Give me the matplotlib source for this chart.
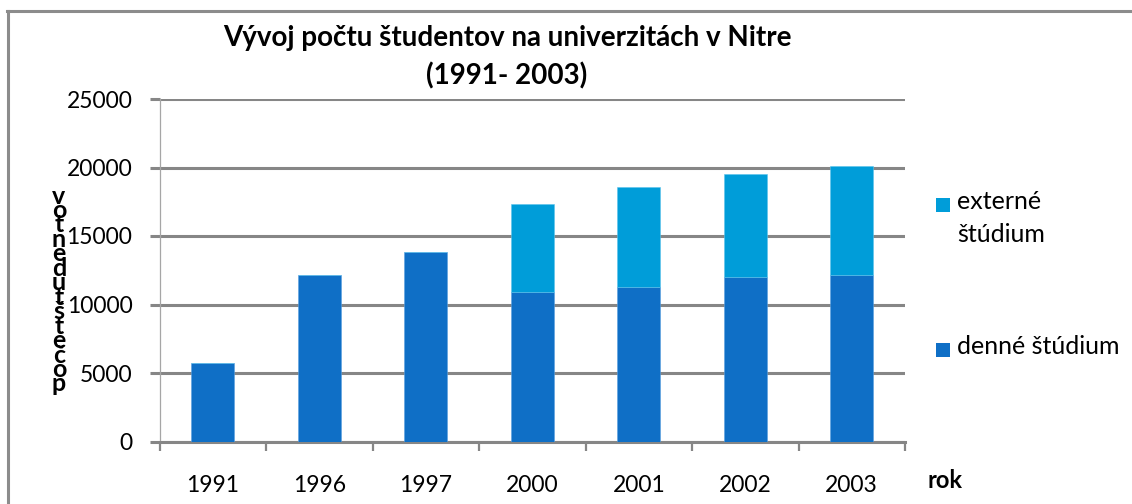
import matplotlib
matplotlib.use("Agg")
import matplotlib.pyplot as plt
from matplotlib.lines import Line2D
from matplotlib.patches import Rectangle

years = ["1991", "1996", "1997", "2000", "2001", "2002", "2003"]
denne = [5700, 12150, 13800, 10900, 11250, 12000, 12150]
externe = [0, 0, 0, 6400, 7350, 7500, 7950]

title = "Vývoj počtu študentov na univerzitách v Nitre\n(1991- 2003)"
ylabel = "počet študentov"
xlabel = "rok"
label_denne = "denné štúdium"
label_externe = "externé\nštúdium"

c_denne = "#0F6FC6"
c_externe = "#009DD9"
c_grid = "#868686"

plt.rcParams["font.family"] = ["Lato", "DejaVu Sans"]

W, H = 1132, 504
fig = plt.figure(figsize=(W / 100, H / 100), dpi=100)
ax = fig.add_axes([159.5 / W, 1 - 441.5 / H, (905 - 159.5) / W, (441.5 - 99) / H])

x = list(range(len(years)))
ax.bar(x, denne, width=0.4, color=c_denne, edgecolor="#5aa0e0", linewidth=0.4, zorder=3)
ax.bar(x, externe, bottom=denne, width=0.4, color=c_externe, edgecolor="#5cc4ec",
       linewidth=0.4, zorder=3)

ax.set_xlim(-0.5, len(years) - 0.5)
ax.set_ylim(0, 25000)
ax.set_yticks(range(0, 25001, 5000))
ax.set_xticks(x)
ax.set_xticklabels(years)
ax.set_xticks([i - 0.5 for i in range(len(years) + 1)], minor=True)

ax.grid(axis="y", color=c_grid, linewidth=2.2, zorder=0)
for s in ["top", "right"]:
    ax.spines[s].set_visible(False)
ax.spines["left"].set_color("#a6a6a6")
ax.spines["left"].set_linewidth(0.9)
ax.spines["bottom"].set_color(c_grid)
ax.spines["bottom"].set_linewidth(2.2)

ax.tick_params(axis="y", length=7.5, width=2.2, color=c_grid, labelsize=16.5, pad=12)
ax.tick_params(axis="x", which="major", length=0, labelsize=16.5, pad=24)
ax.tick_params(axis="x", which="minor", length=6.5, width=1.6, color=c_grid)

fig.text(507 / W, 1 - 57.5 / H, title, ha="center", va="center", fontsize=20,
         fontweight="bold", linespacing=1.5)

# stacked letters, as in the original sheet
fig.text(59 / W, 1 - 290 / H, "\n".join(reversed(ylabel.replace(" ", ""))),
         ha="center", va="center", fontsize=18, fontweight="bold", linespacing=0.55)

fig.text(945 / W, 1 - 480 / H, xlabel, ha="center", va="center", fontsize=17,
         fontweight="bold")

# legend, drawn by hand so the swatch sits on the first line of a wrapped label
for label, color, yc in [(label_externe, c_externe, 204), (label_denne, c_denne, 349)]:
    fig.add_artist(Rectangle((936 / W, 1 - (yc + 7.5) / H), 14 / W, 14 / H,
                             facecolor=color, transform=fig.transFigure))
    fig.text(957 / W, 1 - (yc - 14) / H, label, ha="left", va="top", fontsize=18,
             linespacing=1.55)

# outer chart border
fig.add_artist(Line2D([7 / W, 1], [1 - 11 / H, 1 - 11 / H], color="#8c8c8c", linewidth=2.2,
                      transform=fig.transFigure))
fig.add_artist(Line2D([8 / W, 8 / W], [0, 1 - 11 / H], color="#8c8c8c", linewidth=2.2,
                      transform=fig.transFigure))

fig.savefig("out.png", dpi=100)
